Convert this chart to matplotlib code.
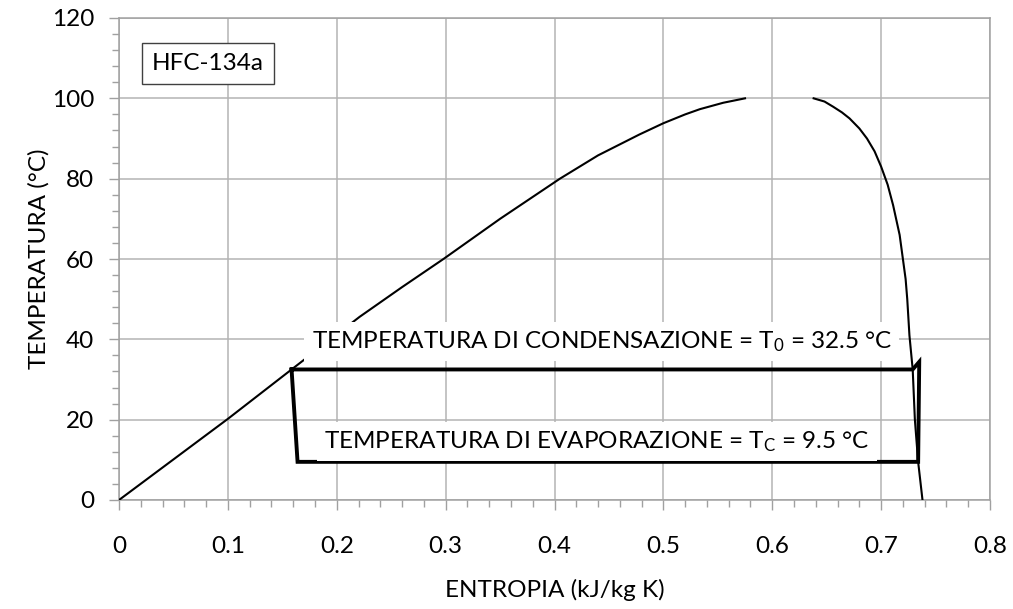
import matplotlib
matplotlib.use("Agg")
import matplotlib.pyplot as plt
from matplotlib.ticker import MultipleLocator

plt.rcParams['font.family'] = ['Lato', 'DejaVu Sans']
plt.rcParams['mathtext.default'] = 'regular'

# Saturated liquid line
s_liq = [0.0, 0.1, 0.1585, 0.221, 0.26, 0.298, 0.35, 0.405, 0.44, 0.478, 0.5, 0.52, 0.5335, 0.555, 0.575]
T_liq = [0.0, 20.2, 32.5, 45.6, 53.0, 60.0, 70.0, 80.0, 85.8, 91.0, 93.8, 96.0, 97.3, 98.9, 100.0]

# Saturated vapour line
s_vap = [0.638, 0.648, 0.656, 0.664, 0.671, 0.680, 0.687, 0.694, 0.700, 0.706, 0.711, 0.717,
         0.720, 0.7225, 0.724, 0.726, 0.729, 0.731, 0.734, 0.738]
T_vap = [100.0, 99.2, 97.9, 96.5, 95.0, 92.5, 90.0, 86.8, 83.0, 78.5, 73.4, 66.0,
         60.0, 55.0, 50.0, 41.0, 32.5, 20.0, 9.5, 0.0]

# Refrigeration cycle
s_cyc = [0.1585, 0.164, 0.734, 0.735, 0.729, 0.1585]
T_cyc = [32.5, 9.5, 9.5, 34.4, 32.5, 32.5]

x_ticks = [0, 0.1, 0.2, 0.3, 0.4, 0.5, 0.6, 0.7, 0.8]
x_tick_labels = ['0', '0.1', '0.2', '0.3', '0.4', '0.5', '0.6', '0.7', '0.8']
y_ticks = [0, 20, 40, 60, 80, 100, 120]

label_cond = 'TEMPERATURA DI CONDENSAZIONE = T$_{0}$ = 32.5 °C'
label_evap = 'TEMPERATURA DI EVAPORAZIONE = T$_{C}$ = 9.5 °C'
fluid = 'HFC-134a'

fs = 17.5
grid_c = '#b4b4b4'

fig = plt.figure(figsize=(10.13, 6.09), dpi=100)
ax = fig.add_axes([119/1013, 1 - 500/609, 871/1013, 482/609])

ax.plot(s_liq, T_liq, color='black', lw=1.5, zorder=3, solid_joinstyle='round')
ax.plot(s_vap, T_vap, color='black', lw=1.5, zorder=3, solid_joinstyle='round')
ax.plot(s_cyc, T_cyc, color='black', lw=2.8, zorder=4, solid_joinstyle='miter')

ax.set_xlim(0, 0.8)
ax.set_ylim(0, 120)
ax.set_xticks(x_ticks)
ax.set_xticklabels(x_tick_labels)
ax.set_yticks(y_ticks)
ax.xaxis.set_minor_locator(MultipleLocator(0.02))
ax.yaxis.set_minor_locator(MultipleLocator(4))
ax.grid(True, which='major', color=grid_c, lw=1.1, zorder=0)
ax.set_axisbelow(True)
for sp in ax.spines.values():
    sp.set_color('#a0a0a0')
    sp.set_linewidth(1.1)
ax.tick_params(which='major', direction='out', length=7, width=1.0, color='#a0a0a0',
               labelsize=fs, labelcolor='black')
ax.tick_params(which='minor', direction='out', length=5, width=1.0, color='#a0a0a0')
ax.tick_params(axis='x', which='major', pad=19)
ax.tick_params(axis='y', which='major', pad=11)

ax.set_xlabel('ENTROPIA (kJ/kg K)', fontsize=fs)
ax.set_ylabel('TEMPERATURA (°C)', fontsize=fs)
ax.xaxis.set_label_coords(0.5, -0.163)
ax.yaxis.set_label_coords(-0.08, 0.5)

ax.text(0.4435, 39.4, label_cond, fontsize=fs, ha='center', va='center', zorder=5,
        bbox=dict(boxstyle='square,pad=0.3', fc='white', ec='none'))
ax.text(0.439, 14.5, label_evap, fontsize=fs, ha='center', va='center', zorder=5,
        bbox=dict(boxstyle='square,pad=0.3', fc='white', ec='none'))
ax.text(0.102, 0.906, fluid, fontsize=fs, ha='center', va='center', transform=ax.transAxes,
        zorder=6, bbox=dict(boxstyle='square,pad=0.42', fc='white', ec='#404040', lw=1.0))

fig.savefig('out.png', dpi=100)
